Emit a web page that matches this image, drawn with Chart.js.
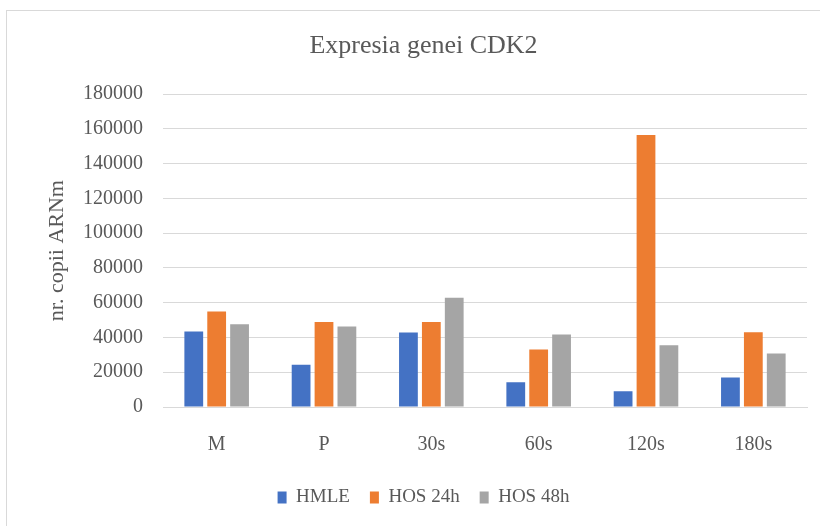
<!DOCTYPE html>
<html lang="ro">
<head>
<meta charset="UTF-8">
<title>Expresia genei CDK2</title>
<script src="https://cdn.jsdelivr.net/npm/chart.js@4.4.1/dist/chart.umd.min.js"></script>
<style>
    body { margin: 0; background: #fff; }
    #frame { position: absolute; left: 6px; top: 10px; width: 830px; height: 540px; border: 1px solid #d9d9d9; }
    #wrap { position: absolute; left: 0; top: 0; }
</style>
</head>
<body>
<div id="frame"></div>
<div id="wrap"><canvas id="bar" width="820" height="526"></canvas></div>
<script>
    // categorii si valori
    const categories = ['M', 'P', '30s', '60s', '120s', '180s'];
    const hmle = [43500, 24300, 42800, 14300, 9000, 17000];
    const hos24 = [55000, 48900, 48900, 33100, 156500, 43000];
    const hos48 = [47600, 46300, 62900, 41700, 35500, 30800];
    const yTicks = [0, 20000, 40000, 60000, 80000, 100000, 120000, 140000, 160000, 180000];

    const textColor = '#595959';
    const gridColor = '#d9d9d9';
    const serif = 'Liberation Serif';

    Chart.defaults.font.family = serif;
    Chart.defaults.color = textColor;

    const ctx = document.getElementById('bar').getContext('2d');
    const myChart = new Chart(ctx, {
        type: 'bar',
        data: {
            labels: categories,
            datasets: [{
                    label: 'HMLE',
                    data: hmle,
                    backgroundColor: '#4472C4',
                },
                {
                    label: 'HOS 24h',
                    data: hos24,
                    backgroundColor: '#ED7D31',
                },
                {
                    label: 'HOS 48h',
                    data: hos48,
                    backgroundColor: '#A5A5A5',
                },
            ],
        },
        options: {
            responsive: false,
            animation: false,
            categoryPercentage: 0.64,
            barPercentage: 0.82,
            layout: {
                padding: { left: 40, right: 13, top: 10, bottom: 9 }
            },
            plugins: {
                title: {
                    display: true,
                    text: 'Expresia genei CDK2',
                    color: textColor,
                    font: { family: 'Times New Roman', size: 26, weight: 400, style: 'normal' },
                    padding: { top: 21, bottom: 32 },
                },
                legend: {
                    position: 'bottom',
                    labels: {
                        color: textColor,
                        font: { family: 'Times New Roman', size: 19, weight: 400, style: 'normal' },
                        boxWidth: 9,
                        boxHeight: 12,
                        padding: 20,
                    }
                },
                tooltip: { enabled: false },
            },
            scales: {
                x: {
                    grid: { display: false, drawTicks: false },
                    border: { display: true, color: gridColor },
                    ticks: {
                        color: textColor,
                        font: { family: serif, size: 20 },
                        padding: 26,
                    },
                    afterFit: function(scale) {
                        scale.height = 61;
                    }
                },
                y: {
                    min: 0,
                    max: 180000,
                    afterBuildTicks: function(scale) {
                        scale.ticks = yTicks.map(v => ({ value: v }));
                    },
                    grid: { color: gridColor, drawTicks: false },
                    border: { display: false },
                    ticks: {
                        color: textColor,
                        font: { family: serif, size: 20 },
                        padding: 20,
                        callback: function(value) {
                            return String(value);
                        }
                    },
                    title: {
                        display: true,
                        text: 'nr. copii ARNm',
                        color: textColor,
                        font: { family: serif, size: 22 },
                    },
                    afterFit: function(scale) {
                        scale.width = 123;
                    }
                }
            }
        }
    });
</script>
</body>
</html>
